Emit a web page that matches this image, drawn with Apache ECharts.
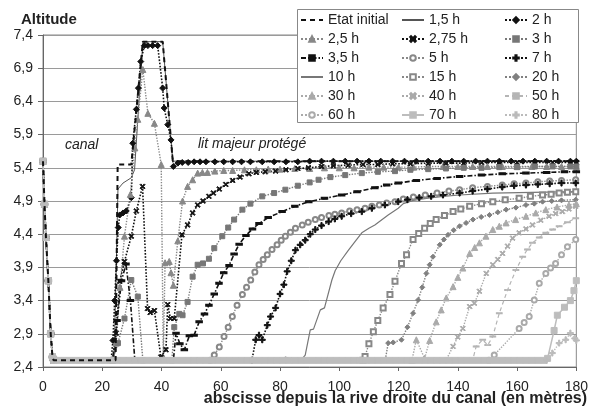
<!DOCTYPE html>
<html><head><meta charset="utf-8">
<script src="https://cdn.jsdelivr.net/npm/echarts@6/dist/echarts.min.js"></script>
<style>html,body{margin:0;padding:0;background:#fff}#c{width:591px;height:410px}</style>
</head><body><div id="c"></div>
<script>
// ---- data (x in metres, altitude) ----
const yTicks = [2.4, 7.4, 0.5];
const xTicks = [0, 180, 20];
const canal = [[0,5.5],[0.5,4.85],[1,4.35],[1.8,3.7],[2.6,2.9],[3.2,2.55],[3.6,2.5]];
const etatInitial = [[24.5,2.5],[25.2,5.45],[29.8,5.45],[33.7,7.3],[40.4,7.3],[43.8,5.5],[180,5.5]];
const h1_5 = [[24,2.5],[25.3,5.08],[27,5.17],[29.8,5.25],[30.9,5.37],[33.7,7.3],[40.4,7.3],[43.8,5.5],[180,5.5]];
const h2 = [[23,2.5],[23.6,2.8],[24.2,3.4],[24.8,4.0],[25.4,4.5],[25.9,4.69],[27,4.72],[28.1,4.75],[29.8,4.95],[30.3,5.77],[31.5,6.28],[32.2,6.6],[33,7.0],[34.2,7.24],[35.4,7.24],[37,7.24],[38.7,7.24],[40.4,6.6],[40.9,6.3],[42.1,6.05],[43.2,5.82],[44,5.42],[45.5,5.47],[47,5.48],[49,5.48],[51,5.49],[53,5.49],[55,5.49],[58,5.49],[61,5.49],[64,5.49],[67,5.49],[70,5.49],[74,5.49],[78,5.49],[82,5.49],[86,5.49],[90,5.5],[94,5.5],[98,5.5],[102,5.5],[106,5.5],[110,5.5],[114,5.5],[118,5.5],[122,5.5],[126,5.5],[130,5.5],[134,5.5],[138,5.5],[142,5.5],[146,5.5],[150,5.5],[154,5.5],[158,5.5],[162,5.5],[166,5.5],[170,5.5],[174,5.5],[178,5.5],[180,5.5]];
const h2_5 = [[23.5,2.5],[24.7,2.76],[26,3.6],[27.5,4.37],[29.5,5.0],[31,5.7],[32,6.13],[33.7,6.88],[35.4,6.22],[37.6,6.07],[39.9,5.45],[40.6,2.55],[41.2,3.97],[42.6,3.99],[43.2,3.82],[44,3.63],[45.5,4.3],[47.1,4.9],[48.8,5.12],[50.5,5.22],[52.2,5.32],[53.8,5.33],[55.5,5.33],[58,5.35],[61,5.36],[64,5.36],[68,5.37],[72,5.37],[76,5.38],[80,5.38],[85,5.39],[90,5.39],[95,5.4],[100,5.4],[105,5.4],[110,5.41],[115,5.41],[120,5.41],[125,5.41],[130,5.42],[135,5.42],[140,5.42],[145,5.42],[150,5.42],[155,5.42],[160,5.42],[165,5.42],[170,5.42],[175,5.42],[180,5.42]];
const h2_75 = [[23.5,2.5],[24.7,2.91],[25.9,3.69],[27.5,3.99],[29.8,4.37],[31.5,4.75],[33.6,5.12],[35.3,3.28],[36.2,3.22],[37.6,3.25],[39.8,2.55],[41.5,2.66],[42.1,3.34],[43,3.13],[44.3,3.13],[46.9,4.39],[48.8,4.54],[50.5,4.72],[52.2,4.84],[54,4.9],[56,4.97],[57.5,5.02],[59.5,5.08],[61.7,5.15],[64,5.21],[66.5,5.26],[69.5,5.31],[72,5.33],[75,5.34],[78.5,5.35],[82,5.37],[86,5.39],[89.6,5.4],[94,5.42],[98,5.43],[103,5.44],[108,5.45],[113,5.45],[118,5.46],[124,5.46],[130,5.47],[136,5.47],[142,5.47],[148,5.48],[154,5.48],[160,5.48],[166,5.48],[172,5.48],[178,5.48],[180,5.48]];
const h3 = [[23.5,2.5],[25.3,2.76],[27.5,3.13],[29.8,3.71],[32,3.46],[33.7,2.5],[43.5,2.5],[44.3,3.0],[46,3.2],[47.1,3.18],[48.8,3.38],[50.5,3.76],[52.2,3.94],[54,3.96],[56,4.03],[57.8,4.19],[60.5,4.37],[62.5,4.5],[64.5,4.62],[67.3,4.77],[70,4.86],[74,4.97],[78,5.02],[81.8,5.07],[86,5.13],[90,5.18],[93,5.22],[97,5.26],[102,5.29],[107.6,5.32],[113,5.34],[118.8,5.35],[124,5.37],[130,5.38],[136,5.39],[142,5.4],[148,5.4],[154,5.41],[160,5.41],[166,5.42],[172,5.42],[178,5.42],[180,5.42]];
const h3_5 = [[23.5,2.5],[25,3.1],[26.5,3.7],[28,3.95],[29.5,3.4],[31,2.5],[44,2.5],[44.9,2.91],[46.2,2.75],[47.7,2.66],[49.4,2.87],[51,2.88],[52.7,3.08],[54.5,3.2],[56,3.33],[57.8,3.5],[59.4,3.66],[61,3.82],[62.8,3.93],[64.5,4.1],[66.2,4.25],[68.5,4.38],[70.7,4.48],[72.9,4.56],[76,4.65],[80.7,4.74],[85,4.82],[89.7,4.89],[95,4.94],[100.8,4.99],[106,5.04],[112,5.1],[116,5.14],[119.9,5.17],[126,5.21],[133,5.24],[140.6,5.27],[148,5.29],[155,5.31],[163,5.32],[170,5.33],[176,5.34],[180,5.34]];
const h5 = [[56.5,2.5],[57.8,2.58],[59.5,2.7],[61.1,2.86],[62.5,3.0],[63.9,3.16],[65.5,3.33],[67.3,3.49],[68.7,3.6],[70.1,3.71],[71.5,3.83],[72.9,3.94],[74.3,4.02],[75.7,4.09],[77.3,4.17],[79,4.24],[80.4,4.31],[81.8,4.37],[83.5,4.43],[85.2,4.49],[87.5,4.54],[89.5,4.58],[91.9,4.62],[94,4.65],[96.5,4.68],[98.5,4.7],[100.8,4.72],[103.5,4.75],[106,4.77],[108.7,4.79],[111,4.82],[113.5,4.84],[116,4.87],[118.8,4.89],[121.6,4.93],[125,4.96],[129,4.99],[133,5.02],[137,5.05],[140.6,5.07],[145,5.1],[150,5.12],[155,5.14],[159,5.16],[163,5.17],[167,5.19],[171,5.2],[175,5.21],[179.8,5.22]];
const h7 = [[70.5,2.5],[71.8,2.81],[72.9,2.88],[74,2.81],[75.7,3.03],[76.8,3.16],[78.5,3.29],[80,3.5],[81.3,3.64],[82.4,3.84],[83.8,4.0],[85.2,4.16],[86.8,4.24],[88.5,4.31],[90.2,4.4],[91.9,4.47],[94,4.53],[96.4,4.59],[98.5,4.63],[100.8,4.67],[104,4.71],[107.6,4.74],[111,4.79],[115.4,4.84],[119.9,4.89],[123,4.92],[127,4.95],[131,4.97],[135,4.99],[140.6,5.02],[145,5.05],[150,5.08],[155,5.11],[159,5.13],[163,5.14],[167,5.15],[171,5.16],[175,5.17],[179.8,5.17]];
const h10 = [[81,2.5],[81.8,2.55],[83.5,2.52],[85.2,2.48],[87,2.5],[88.5,2.58],[90.2,2.96],[91.3,2.97],[93.6,3.26],[95,3.29],[97.5,3.71],[98.6,3.85],[100.5,4.0],[103.1,4.16],[105.5,4.3],[107.6,4.42],[110,4.49],[112,4.54],[116.5,4.69],[119.9,4.79],[121.6,4.86],[125,4.91],[129.4,4.94],[135,4.97],[140.6,4.99],[151.8,5.02],[165,5.03],[179.8,5.04]];
const h15 = [[108,2.5],[108.7,2.56],[110,2.75],[111.5,2.93],[113,3.1],[114.8,3.29],[117.1,3.49],[118.8,3.69],[121,3.96],[122.7,4.09],[124.9,4.32],[126.8,4.41],[128.8,4.49],[130.7,4.56],[132.7,4.62],[135.5,4.68],[138.4,4.74],[141,4.78],[144,4.82],[148,4.86],[151.8,4.89],[156,4.92],[160.7,4.94],[164.5,4.97],[168.6,4.99],[171.5,5.0],[174.2,5.02],[177,5.03],[179.8,5.04]];
const h20 = [[115.5,2.5],[116.5,2.76],[118.2,2.77],[121,2.81],[123,3.0],[124.9,3.21],[126.6,3.41],[128,3.6],[129.4,3.81],[130.5,3.94],[131.6,4.06],[133.9,4.24],[135.3,4.32],[136.7,4.39],[138.6,4.46],[140.6,4.52],[142.8,4.57],[145.1,4.62],[147.9,4.66],[150.7,4.69],[153.5,4.73],[156.3,4.77],[159.6,4.8],[163,4.84],[165.8,4.86],[168.6,4.89],[171.7,4.9],[175,4.91],[179.8,4.92]];
const h30 = [[124.5,2.5],[126,2.81],[128.8,2.53],[130.5,2.8],[132.7,3.08],[134.4,3.26],[136.1,3.44],[138.4,3.61],[140,3.75],[141.7,3.89],[144,4.11],[145.7,4.2],[147.3,4.27],[149.5,4.37],[151.8,4.47],[154,4.52],[156.3,4.57],[159.5,4.62],[163,4.67],[166.3,4.72],[169.7,4.77],[173.5,4.81],[177.5,4.84],[180,4.86]];
const h40 = [[136,2.5],[138.4,2.71],[140,2.85],[141.7,2.98],[144,3.31],[145.6,3.36],[147.3,3.54],[149.6,3.81],[151.8,3.94],[153.5,4.02],[155.1,4.11],[156.8,4.22],[158.5,4.34],[160.7,4.42],[163,4.48],[165.2,4.54],[168,4.61],[170.8,4.67],[173,4.71],[175.3,4.74],[177.5,4.78],[179.8,4.82]];
const h50 = [[145,2.5],[146.2,2.71],[148.4,2.81],[150.1,2.73],[151.8,2.86],[154,3.21],[156.8,3.56],[159.6,3.86],[161.9,4.06],[163.5,4.17],[165.2,4.27],[167.5,4.35],[169.7,4.42],[172,4.47],[174.2,4.52],[177,4.58],[179.8,4.64]];
const h60 = [[150.5,2.5],[152.3,2.58],[160.7,2.98],[162.4,3.07],[164.1,3.16],[165.8,3.41],[167.5,3.66],[169.7,3.81],[171.3,3.89],[173,3.96],[175,4.09],[177,4.21],[179.8,4.32]];
const base70X = [5,7,9,11,13,15,17,19,21,23,25,27,29,31,33,35,37,39,41,43,45,47,49,51,53,55,57,59,61,63,65,67,69,71,73,75,77,79,81,83,85,87,89,91,93,95,97,99,101,103,105,107,109,111,113,115,117,119,121,123,125,127,129,131,133,135,137,139,141,143,145,147,149,151,153,155,157,159,161,163,165,167,169];
const base70Y = 2.5;
const rise70 = [[170.3,2.53],[172.5,2.95],[173.6,3.18],[176,3.3],[178,3.4],[179.2,3.55],[180,3.7]];
const h80 = [[170,2.5],[171.9,2.61],[174.2,2.76],[176.4,2.81],[178,2.91],[179.5,2.83],[180,2.8]];
const legendCols = [
  ['Etat initial','2,5 h','3,5 h','10 h','30 h','60 h'],
  ['1,5 h','2,75 h','5 h','15 h','40 h','70 h'],
  ['2 h','3 h','7 h','20 h','50 h','80 h']
];

// ---- styles ----
const SYM_X = 'path://M0,1.5L1.5,0L5,3.5L8.5,0L10,1.5L6.5,5L10,8.5L8.5,10L5,6.5L1.5,10L0,8.5L3.5,5Z';
const SYM_PLUS = 'path://M4,0H6V4H10V6H6V10H4V6H0V4H4Z';
const h70 = base70X.map(x => [x, base70Y]).concat(rise70);
const noSymbol = {};

function S(name, pts, color, lineType, width, symbol, size, extra) {
  if (!symbol || symbol === 'none') noSymbol[name] = true;
  const s = {
    name, type: 'line', data: canal.concat(pts),
    showAllSymbol: true, silent: true,
    lineStyle: {color, type: lineType, width},
    itemStyle: {color, borderColor: color, borderWidth: 1},
    symbol: symbol || 'none', symbolSize: size || 5
  };
  return Object.assign(s, extra || {});
}
const series = [
  S('Etat initial', etatInitial, '#111', [5,4], 2, 'none', 0, {z: 4}),
  S('1,5 h', h1_5, '#555', 'solid', 1, 'none', 0),
  S('2 h', h2, '#111', 'dotted', 1.6, 'diamond', 6),
  S('2,5 h', h2_5, '#888', 'dotted', 1.4, 'triangle', 6),
  S('2,75 h', h2_75, '#111', 'dotted', 1.6, SYM_X, 5),
  S('3 h', h3, '#777', 'dotted', 1.4, 'rect', 5),
  S('3,5 h', h3_5, '#111', [5,2,1.5,2], 1.6, 'rect', [5,2]),
  S('5 h', h5, '#888', 'dotted', 1.4, 'emptyCircle', 5),
  S('7 h', h7, '#111', 'dotted', 1.6, SYM_PLUS, 6),
  S('10 h', h10, '#777', 'solid', 1.2, 'none', 0),
  S('15 h', h15, '#888', 'dotted', 1.4, 'emptyRect', 5),
  S('20 h', h20, '#808080', 'dotted', 1.4, 'diamond', 5),
  S('30 h', h30, '#aaa', 'dotted', 1.4, 'triangle', 6),
  S('40 h', h40, '#aaa', 'dotted', 1.4, SYM_X, 5),
  S('50 h', h50, '#b5b5b5', [4,3], 1.2, 'rect', [5,1.5]),
  S('60 h', h60, '#aaa', 'dotted', 1.4, 'emptyCircle', 5),
  S('70 h', h70, '#bdbdbd', 'solid', 1.5, 'rect', 6, {z: 3}),
  S('80 h', h80, '#bbb', 'dotted', 1.4, SYM_PLUS, 6)
];

const FONT = "'Liberation Sans', Arial, sans-serif";
const legendLefts = [300, 401, 504];
const legends = legendCols.map((col, i) => ({
  data: col.map(n => noSymbol[n] ? {name: n, itemStyle: {opacity: 0}} : {name: n}),
  orient: 'vertical', left: legendLefts[i], top: 13, padding: 0,
  itemWidth: 22, itemHeight: 7, itemGap: 5, selectedMode: false, z: 6,
  textStyle: {fontSize: 14, color: '#222', fontFamily: FONT}
}));

const chart = echarts.init(document.getElementById('c'), null, {renderer: 'canvas'});
chart.setOption({
  animation: false,
  backgroundColor: '#fff',
  grid: {left: 43, right: 12, top: 35, bottom: 43, show: true, borderColor: '#888', borderWidth: 1, backgroundColor: 'transparent'},
  xAxis: {
    type: 'value', min: xTicks[0], max: xTicks[1], interval: xTicks[2],
    axisLine: {show: true, onZero: false, lineStyle: {color: '#666'}},
    axisTick: {show: true, length: 4, lineStyle: {color: '#666'}},
    splitLine: {show: false},
    axisLabel: {fontSize: 14, color: '#222', margin: 13, fontFamily: FONT}
  },
  yAxis: {
    type: 'value', min: yTicks[0], max: yTicks[1], interval: yTicks[2],
    axisLine: {show: true, lineStyle: {color: '#666'}},
    axisTick: {show: true, length: 5, lineStyle: {color: '#666'}},
    splitLine: {show: true, lineStyle: {color: '#9a9a9a', width: 1}},
    axisLabel: {fontSize: 14, color: '#222', margin: 10, fontFamily: FONT,
      formatter: v => v.toFixed(1).replace('.', ',')}
  },
  legend: legends,
  graphic: [
    {type: 'rect', z: 5, shape: {x: 297.5, y: 9.5, width: 281, height: 113},
     style: {fill: '#fff', stroke: '#888', lineWidth: 1}},
    {type: 'text', z: 6, style: {text: 'Altitude', x: 21, y: 20, font: "bold 15px " + FONT, fill: '#222', textVerticalAlign: 'middle'}},
    {type: 'text', z: 6, style: {text: 'canal', x: 65, y: 145, font: "italic 14px " + FONT, fill: '#222', textVerticalAlign: 'middle'}},
    {type: 'text', z: 6, style: {text: 'lit majeur protégé', x: 198, y: 144, font: "italic 14px " + FONT, fill: '#222', textVerticalAlign: 'middle'}},
    {type: 'text', z: 6, style: {text: 'abscisse depuis la rive droite du canal (en mètres)', x: 587, y: 399, font: "bold 16px " + FONT, fill: '#222', textAlign: 'right', textVerticalAlign: 'middle'}}
  ],
  series
});
</script></body></html>
